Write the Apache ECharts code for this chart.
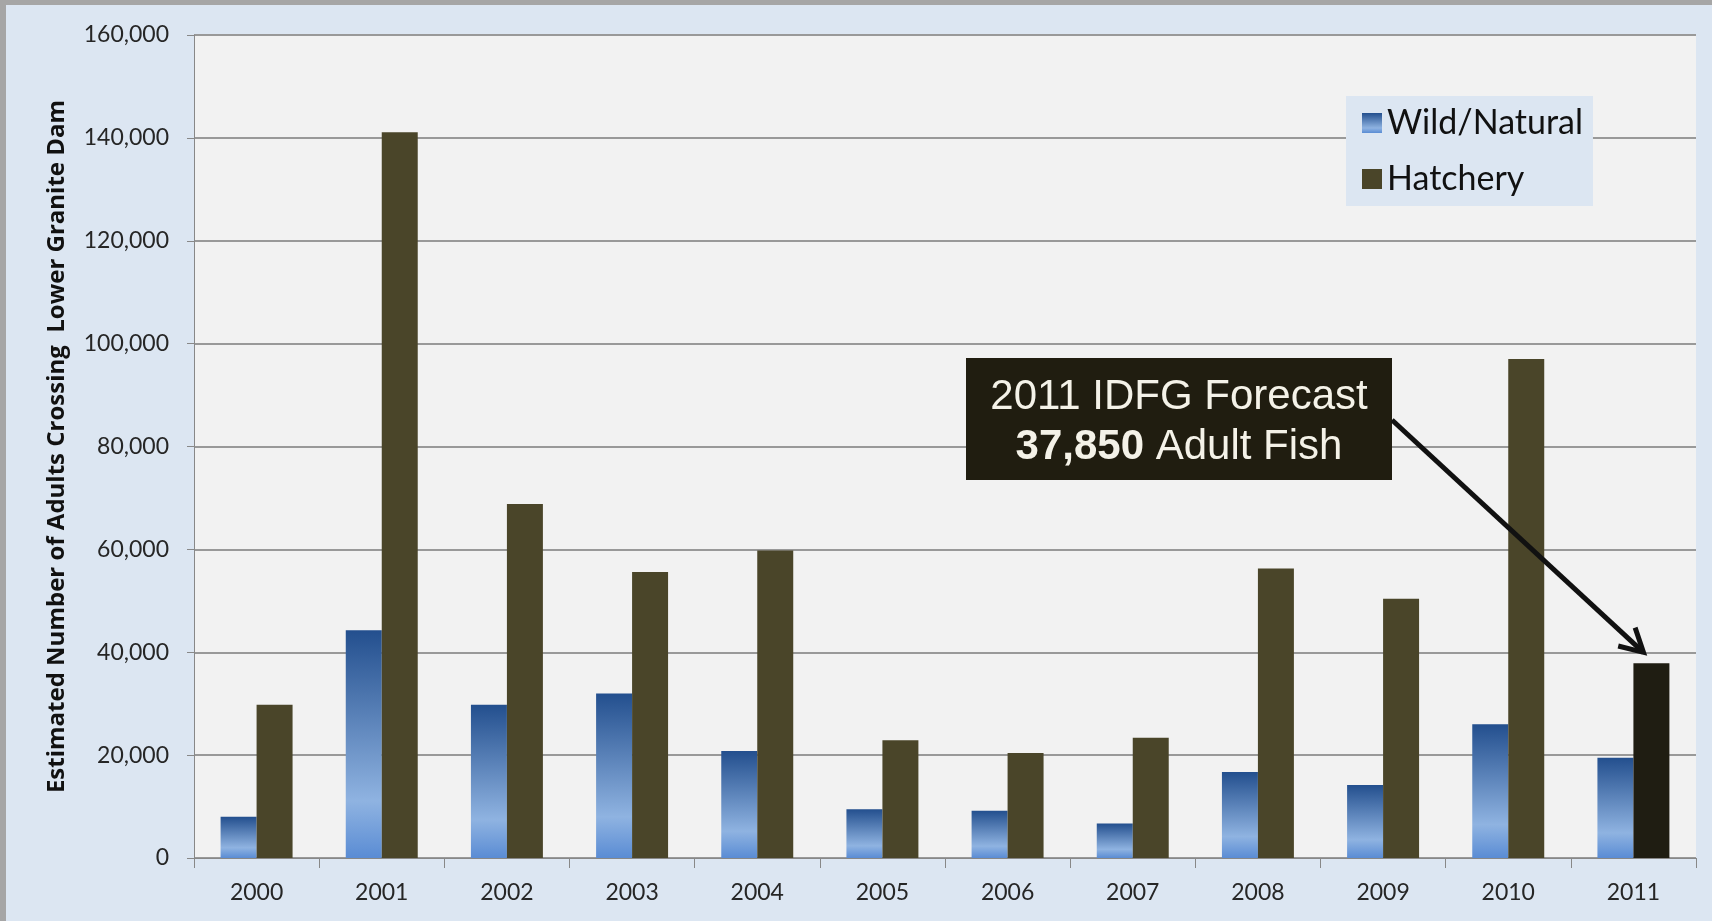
<!DOCTYPE html>
<html>
<head>
<meta charset="utf-8">
<script src="https://cdn.jsdelivr.net/npm/echarts@6/dist/echarts.min.js"></script>
<style>
  html, body { margin: 0; padding: 0; background: #a6a6a6; }
  #main { position: absolute; left: 6px; top: 5px; width: 1706px; height: 916px; background: #dce6f2; }
</style>
</head>
<body>
<div id="main"></div>
<script>
// data
var years = ['2000', '2001', '2002', '2003', '2004', '2005', '2006', '2007', '2008', '2009', '2010', '2011']
var wild = [8000, 44300, 29800, 32000, 20800, 9500, 9200, 6700, 16700, 14200, 26000, 19500]
var hatchery = [29800, 141100, 68800, 55600, 59800, 22900, 20400, 23400, 56300, 50400, 97000, 37850]
var forecastYear = '2011'
var forecastValue = 37850

var chart = echarts.init(document.getElementById('main'))

var wildColor = new echarts.graphic.LinearGradient(0, 0, 0, 1, [
  { offset: 0, color: '#234f8e' },
  { offset: 0.75, color: '#8fb3e1' },
  { offset: 1, color: '#5a8cd4' }
])

var option = {
  animation: false,
  textStyle: { fontFamily: 'Lato' },
  grid: {
    left: 188,
    top: 30,
    right: 16,
    bottom: 63,
    show: true,
    backgroundColor: '#f2f2f2',
    borderWidth: 0
  },
  legend: {
    orient: 'vertical',
    left: 1340,
    top: 91,
    padding: [10, 10, 10, 16],
    backgroundColor: '#dce6f2',
    icon: 'rect',
    itemWidth: 20,
    itemHeight: 20,
    itemGap: 22,
    textStyle: { fontSize: 34, lineHeight: 30, color: '#111', fontFamily: 'Lato' },
    data: ['Wild/Natural', 'Hatchery']
  },
  xAxis: {
    type: 'category',
    data: years,
    axisLine: { lineStyle: { color: '#888', width: 1 } },
    axisTick: { show: true, length: 10, lineStyle: { color: '#888' } },
    axisLabel: { fontSize: 23, color: '#262626', margin: 23 }
  },
  yAxis: {
    type: 'value',
    min: 0,
    max: 160000,
    interval: 20000,
    name: 'Estimated Number of Adults Crossing  Lower Granite Dam',
    nameLocation: 'middle',
    nameGap: 125,
    nameTextStyle: { fontSize: 24, fontWeight: 'bold', color: '#111', fontFamily: 'Open Sans' },
    axisLine: { show: true, lineStyle: { color: '#888', width: 1 } },
    axisTick: { show: true, length: 7, lineStyle: { color: '#888' } },
    axisLabel: {
      fontSize: 23,
      color: '#262626',
      margin: 25,
      formatter: function (v) { return v.toLocaleString('en-US') }
    },
    splitLine: { lineStyle: { color: '#999', width: 2 } }
  },
  series: [
    {
      name: 'Wild/Natural',
      type: 'bar',
      barGap: '0%',
      barCategoryGap: '42.5%',
      itemStyle: { color: wildColor },
      data: wild
    },
    {
      name: 'Hatchery',
      type: 'bar',
      barGap: '0%',
      barCategoryGap: '42.5%',
      itemStyle: { color: '#4a4529' },
      data: hatchery.map(function (v, i) {
        // forecast bar is drawn darker
        return years[i] === forecastYear ? { value: v, itemStyle: { color: '#1f1d12' } } : v
      })
    }
  ]
}

chart.setOption(option)

// annotation box and arrow pointing at the forecast bar
var tip = chart.convertToPixel({ seriesIndex: 1 }, [forecastYear, forecastValue])
var tipX = tip[0] + 10
var tipY = tip[1] - 11
var startX = 1386
var startY = 415
var ang = Math.atan2(tipY - startY, tipX - startX)
var arm = 26
var a1 = ang + Math.PI - 0.5
var a2 = ang + Math.PI + 0.5

chart.setOption({
  graphic: [
    {
      type: 'rect',
      shape: { x: 960, y: 353, width: 426, height: 122 },
      style: { fill: '#201d10' },
      z: 100
    },
    {
      type: 'text',
      x: 1173,
      y: 392,
      style: {
        text: '2011 IDFG Forecast',
        fill: '#f4f2e8',
        font: '42px "Liberation Sans", Arial',
        align: 'center',
        verticalAlign: 'middle'
      },
      z: 101
    },
    {
      type: 'text',
      x: 1173,
      y: 442,
      style: {
        text: '{b|37,850} Adult Fish',
        fill: '#f4f2e8',
        font: '42px "Liberation Sans", Arial',
        align: 'center',
        verticalAlign: 'middle',
        rich: {
          b: { fontWeight: 'bold', fontSize: 42, fontFamily: 'Liberation Sans', fill: '#f4f2e8' }
        }
      },
      z: 101
    },
    {
      type: 'line',
      shape: { x1: startX, y1: startY, x2: tipX, y2: tipY },
      style: { stroke: '#111', lineWidth: 5 },
      z: 100
    },
    {
      type: 'polyline',
      shape: {
        points: [
          [tipX + arm * Math.cos(a1), tipY + arm * Math.sin(a1)],
          [tipX, tipY],
          [tipX + arm * Math.cos(a2), tipY + arm * Math.sin(a2)]
        ]
      },
      style: { stroke: '#111', lineWidth: 5, fill: null },
      z: 100
    }
  ]
})
</script>
</body>
</html>
